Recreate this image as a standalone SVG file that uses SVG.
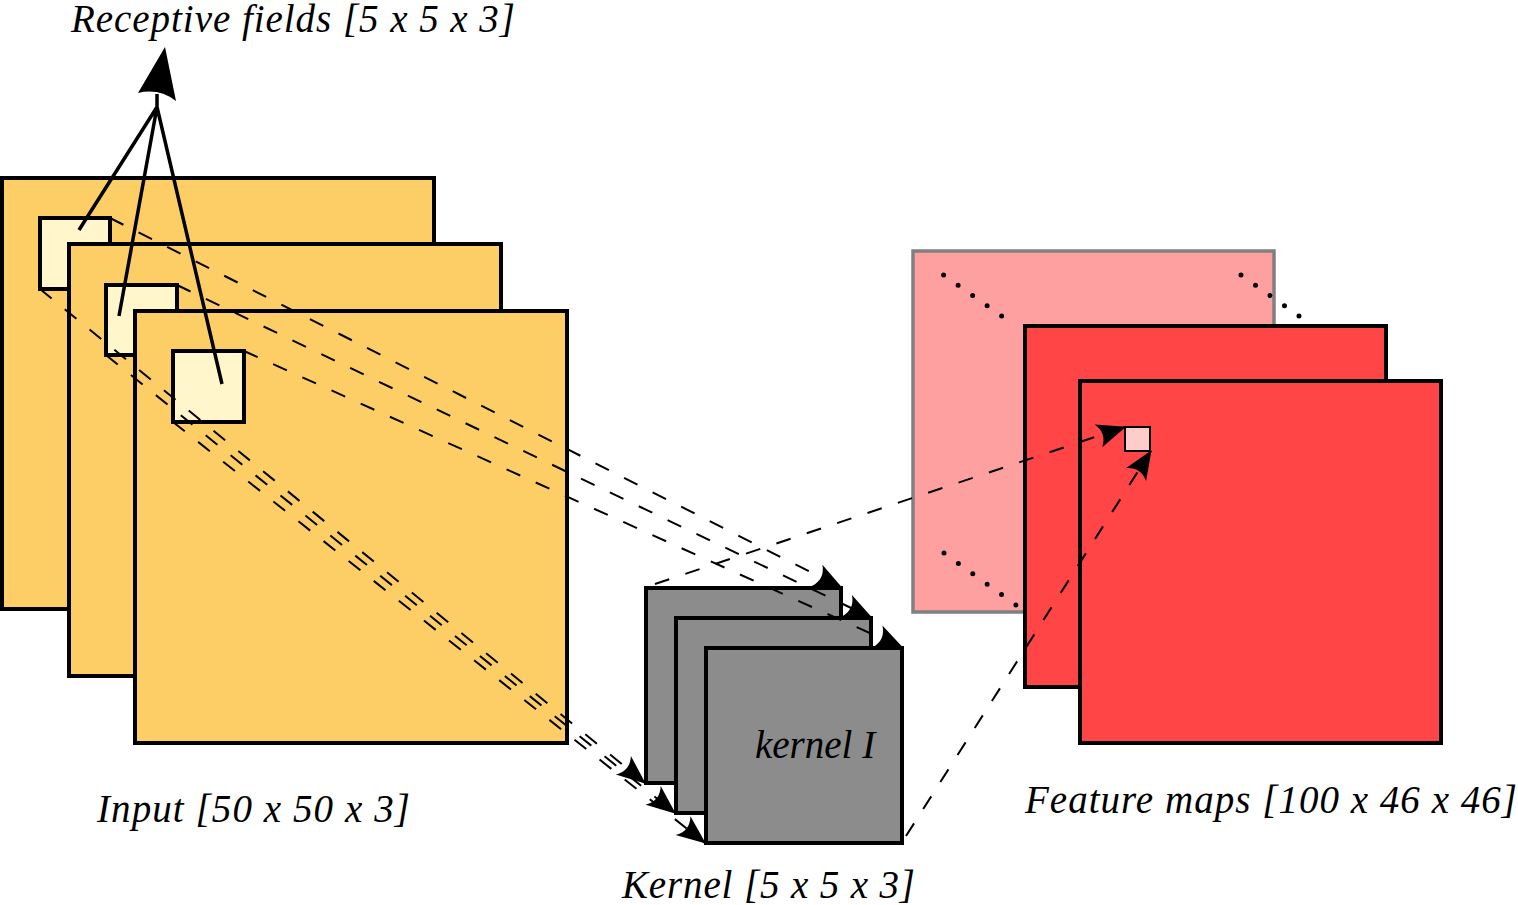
<svg xmlns="http://www.w3.org/2000/svg" width="1518" height="905" viewBox="0 0 1518 905">
<style>
.inp{fill:#FECE66;stroke:#000;stroke-width:4}
.rf{fill:#FFF6CC;stroke:#000;stroke-width:4}
.ker{fill:#8C8C8C;stroke:#000;stroke-width:4}
.fmb{fill:#FFA0A0;stroke:#808080;stroke-width:3.5}
.fm{fill:#FF4545;stroke:#000;stroke-width:4}
.cell{fill:#FFCCCC;stroke:#000;stroke-width:2}
.dash{fill:none;stroke:#000;stroke-width:2;stroke-dasharray:15 17}
.dot{fill:none;stroke:#000;stroke-width:5;stroke-linecap:round;stroke-dasharray:0 17.75}
.solid{fill:none;stroke:#000;stroke-width:3.5}
.lbl{font-family:"Liberation Serif","Times New Roman",serif;font-style:italic;font-size:39px;fill:#000}
</style>
<defs>
<marker id="ah" markerUnits="userSpaceOnUse" markerWidth="40" markerHeight="40" refX="0" refY="0" orient="auto" overflow="visible">
<path d="M1,0 L-28,-12 C-22,-4 -22,4 -28,12 Z" fill="#000"/>
</marker>
</defs>
<g id="input">
<rect class="inp" x="2" y="178" width="432" height="431"/>
<rect class="rf" x="40" y="218" width="70" height="71"/>
<rect class="inp" x="69" y="244" width="432" height="432"/>
<rect class="rf" x="106" y="285" width="71" height="70"/>
<rect class="inp" x="135" y="311" width="432" height="432"/>
<rect class="rf" x="173" y="351" width="71" height="71"/>
</g>
<g id="kernel">
<rect class="ker" x="646" y="588" width="195" height="195"/>
<rect class="ker" x="676" y="618" width="195" height="195"/>
<rect class="ker" x="706" y="648" width="196" height="195"/>
<text class="lbl" x="755" y="758" font-size="36">kernel I</text>
</g>
<g id="feature-maps">
<rect class="fmb" x="913" y="251" width="361" height="361"/>
<rect class="fm" x="1025" y="326" width="361" height="361"/>
<rect class="fm" x="1080" y="381" width="361" height="362"/>
<rect class="cell" x="1125" y="427" width="25" height="24"/>
</g>
<g id="connectors">
<path class="dot" d="M943.6,275 L1016,326"/>
<path class="dot" d="M1241,275 L1299,316"/>
<path class="dot" d="M944,553 L1016,605"/>
<path class="dash" d="M110,218 L842,588" marker-end="url(#ah)"/>
<path class="dash" d="M177,285 L872,618" marker-end="url(#ah)"/>
<path class="dash" d="M244,351 L903,648" marker-end="url(#ah)"/>
<path class="dash" d="M40,289 L645,783" marker-end="url(#ah)"/>
<path class="dash" d="M106,355 L675,813" marker-end="url(#ah)"/>
<path class="dash" d="M173,422 L705,843" marker-end="url(#ah)"/>
<path class="dash" d="M655,584 L1125,427" marker-end="url(#ah)"/>
<path class="dash" d="M906,836 L1151,451" marker-end="url(#ah)"/>
<path class="solid" d="M79,230 L157,107 M119,316 L157,107 M222,384 L157,107 M157,107 L157,94"/>
<path d="M165,47 L176,101 Q159,88 138,93 Z" fill="#000"/>
</g>
<g id="labels">
<text class="lbl" x="71" y="32" font-size="36" textLength="444">Receptive fields [5 x 5 x 3]</text>
<text class="lbl" x="97" y="822" textLength="313">Input [50 x 50 x 3]</text>
<text class="lbl" x="622" y="898" textLength="293">Kernel [5 x 5 x 3]</text>
<text class="lbl" x="1025" y="813" textLength="492">Feature maps [100 x 46 x 46]</text>
</g>
</svg>
